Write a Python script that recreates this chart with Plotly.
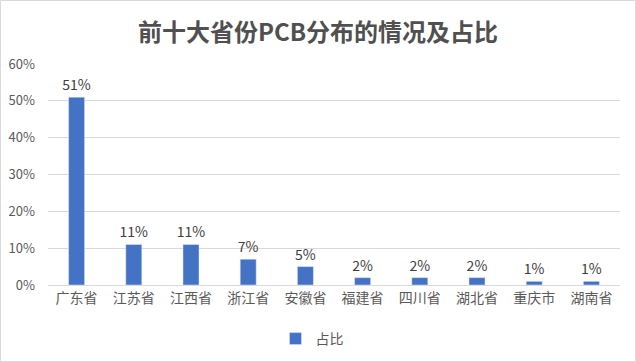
import plotly.graph_objects as go

categories = ["广东省", "江苏省", "江西省", "浙江省", "安徽省", "福建省", "四川省", "湖北省", "重庆市", "湖南省"]
shares = [0.51, 0.11, 0.11, 0.07, 0.05, 0.02, 0.02, 0.02, 0.01, 0.01]
series_name = "占比"
title_text = "前十大省份PCB分布的情况及占比"

font_cjk = "Noto Sans CJK SC"

fig = go.Figure()
fig.add_trace(go.Bar(
    x=categories,
    y=shares,
    name=series_name,
    marker=dict(color="#4472C4"),
    text=[f"{v:.0%}" for v in shares],
    textposition="outside",
    constraintext="none",
    textfont=dict(family=font_cjk, size=14, color="#404040"),
    cliponaxis=False,
    showlegend=True,
))

fig.update_layout(
    width=636, height=362,
    paper_bgcolor="white", plot_bgcolor="white",
    margin=dict(l=48, r=16, t=64, b=77, autoexpand=False),
    title=dict(text=title_text, x=0.5, xanchor="center", y=1 - 33/362, yanchor="middle",
               font=dict(family=font_cjk, size=24, color="#505050", weight="bold")),
    bargap=0.72,
    showlegend=True,
    legend=dict(orientation="h", x=0.5 - 22/572, xanchor="center", y=-54/221, yanchor="middle",
                itemwidth=30,
                font=dict(family=font_cjk, size=14, color="#595959")),
    yaxis=dict(range=[0, 0.6], dtick=0.1, tickformat=".0%", showgrid=True,
               gridcolor="#D9D9D9", gridwidth=1, zeroline=False, automargin=False,
               tickfont=dict(family=font_cjk, size=13, color="#595959"), ticks="",
               ticklabelstandoff=12),
    xaxis=dict(showline=True, linecolor="#D9D9D9", linewidth=1, ticks="", automargin=False,
               tickfont=dict(family=font_cjk, size=14, color="#595959")),
    shapes=[dict(type="rect", xref="paper", yref="paper",
                 x0=-47.5/572, x1=1+15.5/572, y0=-76.5/221, y1=1+63.5/221,
                 line=dict(color="#D9D9D9", width=1), fillcolor="rgba(0,0,0,0)", layer="below")],
)

fig.write_html("out.html", config={"displayModeBar": False},
               post_script="document.body.style.margin='0';document.body.style.overflow='hidden';")
